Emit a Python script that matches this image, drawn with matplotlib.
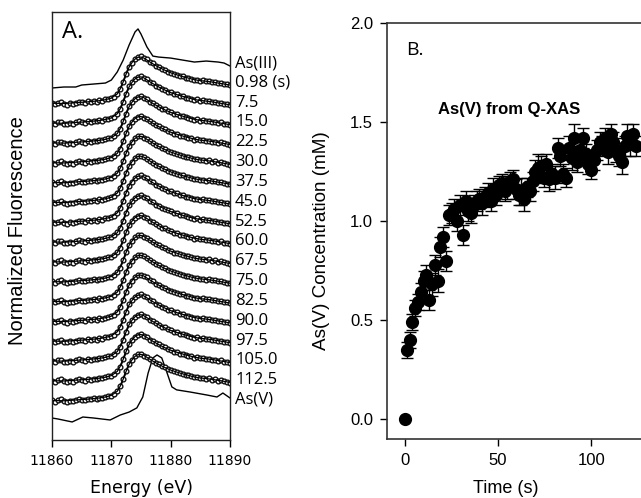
import numpy as np
from matplotlib import pyplot as plt

# ---- panel A: XANES spectra (values in units of the stacking step) ----
energy = [11860.0, 11860.5, 11861.0, 11861.5, 11862.0, 11862.5, 11863.0, 11863.5,
          11864.0, 11864.5, 11865.0, 11865.5, 11866.0, 11866.5, 11867.0, 11867.5,
          11868.0, 11868.5, 11869.0, 11869.5, 11870.0, 11870.5, 11871.0, 11871.5,
          11872.0, 11872.5, 11873.0, 11873.5, 11874.0, 11874.5, 11875.0, 11875.5,
          11876.0, 11876.5, 11877.0, 11877.5, 11878.0, 11878.5, 11879.0, 11879.5,
          11880.0, 11880.5, 11881.0, 11881.5, 11882.0, 11882.5, 11883.0, 11883.5,
          11884.0, 11884.5, 11885.0, 11885.5, 11886.0, 11886.5, 11887.0, 11887.5,
          11888.0, 11888.5, 11889.0, 11889.5, 11890.0]
sample_data = [-1.02, -1.08, -1.00, -0.96, -1.06, -1.10, -1.04, -1.07,
               -1.00, -0.95, -0.99, -1.02, -0.94, -0.97, -0.92, -0.95,
               -0.88, -0.90, -0.84, -0.80, -0.78, -0.70, -0.55, -0.32,
               0.05, 0.45, 0.82, 1.02, 1.20, 1.30, 1.33, 1.24,
               1.18, 1.05, 0.98, 0.86, 0.80, 0.70, 0.66, 0.56,
               0.52, 0.44, 0.42, 0.34, 0.33, 0.26, 0.24, 0.20,
               0.14, 0.16, 0.10, 0.12, 0.07, 0.09, 0.03, 0.04,
               -0.02, 0.00, -0.06, -0.08, -0.12]

fit_energy = [11860, 11862, 11864, 11866, 11868, 11869, 11870, 11871, 11871.5,
              11872, 11872.5, 11873, 11873.5, 11874, 11874.5, 11875, 11875.5,
              11876, 11877, 11878, 11879, 11880, 11881, 11882, 11883, 11884,
              11885, 11886, 11887, 11888, 11889, 11890]
sample_fit = [-1.03, -1.04, -1.00, -0.96, -0.90, -0.85, -0.77, -0.56, -0.30,
              0.05, 0.45, 0.80, 1.03, 1.20, 1.29, 1.30, 1.25,
              1.15, 0.96, 0.79, 0.64, 0.51, 0.41, 0.32, 0.24, 0.16,
              0.11, 0.08, 0.04, -0.01, -0.06, -0.11]

as3_energy = [11860, 11862, 11864, 11865, 11867, 11869, 11870, 11871, 11872,
              11873, 11874, 11874.5, 11875, 11876, 11877, 11878, 11880, 11882,
              11884, 11886, 11888, 11889, 11890]
as3_ref = [-1.26, -1.21, -1.21, -1.11, -1.06, -1.01, -0.86, -0.45, 0.15,
           0.91, 1.57, 1.72, 1.46, 0.81, 0.35, 0.30, 0.25, 0.15,
           0.05, 0.10, 0.05, 0.00, -0.15]

as5_energy = [11860, 11861, 11863.4, 11865.2, 11867, 11869.8, 11871.5, 11873,
              11874.3, 11875.3, 11876.2, 11877, 11877.7, 11878.5, 11879.4,
              11880.2, 11881, 11883.3, 11886.1, 11887.8, 11888.8, 11890]
as5_ref = [-0.91, -0.96, -1.11, -0.86, -0.91, -1.01, -0.76, -0.61,
           -0.40, 0.15, 1.36, 2.12, 2.27, 2.12, 1.36,
           0.66, 0.51, 0.40, 0.25, 0.15, 0.35, 0.10]

times_a = ["0.98 (s)", "7.5", "15.0", "22.5", "30.0", "37.5", "45.0", "52.5",
           "60.0", "67.5", "75.0", "82.5", "90.0", "97.5", "105.0", "112.5"]

# ---- panel B: As(V) concentration from Q-XAS ----
time_b = [0, 1, 2.5, 4, 5.5, 7, 8.5, 10, 11.5, 13, 14.5, 16, 17.5, 19, 20.5, 22,
          23.5, 25, 26.5, 28, 29.5, 31, 32.5, 34, 35.5, 37, 38.5, 40, 41.5, 43,
          44.5, 46, 47.5, 49, 50.5, 52, 53.5, 55, 56.5, 58, 59.5, 61, 62.5, 64,
          65.5, 67, 68.5, 70, 71.5, 73, 74.5, 76, 77.5, 79, 80.5, 82, 83.5, 85,
          86.5, 88, 89.5, 91, 92.5, 94, 95.5, 97, 98.5, 100, 101.5, 103, 104.5,
          106, 107.5, 109, 110.5, 112, 113.5, 115, 116.5, 118, 119.5, 121,
          122.5, 124]
conc = [0.0, 0.35, 0.40, 0.49, 0.56, 0.59, 0.64, 0.70, 0.73, 0.60, 0.68, 0.78,
        0.70, 0.87, 0.92, 0.80, 1.03, 1.04, 1.06, 1.00, 1.08, 0.93, 1.10, 1.05,
        1.04, 1.08, 1.10, 1.11, 1.09, 1.12, 1.14, 1.10, 1.16, 1.13, 1.18, 1.19,
        1.15, 1.17, 1.20, 1.21, 1.16, 1.13, 1.15, 1.11, 1.17, 1.15, 1.20, 1.25,
        1.27, 1.28, 1.22, 1.29, 1.21, 1.24, 1.22, 1.37, 1.33, 1.24, 1.22, 1.37,
        1.32, 1.42, 1.30, 1.36, 1.42, 1.34, 1.29, 1.26, 1.31, 1.36, 1.40, 1.38,
        1.42, 1.35, 1.44, 1.40, 1.36, 1.33, 1.30, 1.38, 1.43, 1.39, 1.44, 1.38]
conc_err = [0.0, 0.04, 0.04, 0.04, 0.04, 0.04, 0.05, 0.05, 0.05, 0.05, 0.06,
            0.05, 0.06, 0.05, 0.05, 0.05, 0.05, 0.05, 0.05, 0.05, 0.05, 0.05,
            0.05, 0.05, 0.05, 0.05, 0.05, 0.05, 0.06, 0.05, 0.05, 0.05, 0.06,
            0.05, 0.05, 0.05, 0.05, 0.06, 0.05, 0.05, 0.05, 0.05, 0.07, 0.06,
            0.05, 0.05, 0.05, 0.06, 0.07, 0.05, 0.05, 0.05, 0.06, 0.05, 0.06,
            0.05, 0.05, 0.05, 0.05, 0.06, 0.06, 0.07, 0.05, 0.05, 0.05, 0.05,
            0.05, 0.05, 0.05, 0.05, 0.05, 0.05, 0.05, 0.06, 0.05, 0.05, 0.06,
            0.05, 0.06, 0.05, 0.06, 0.06, 0.05, 0.05]

plt.rcParams['font.family'] = ['Liberation Sans', 'DejaVu Sans']
W, H = 641, 498
fig = plt.figure(figsize=(W / 100, H / 100), dpi=100)

# ---------------- panel A ----------------
axA = fig.add_axes([52 / W, (H - 440) / H, 178 / W, 428 / H])
step0 = 2.02  # position of the lowest trace (As(V))

axA.plot(as5_energy, np.array(as5_ref) + step0, color='k', lw=1.0)
for i, lab in enumerate(times_a):
    off = step0 + (len(times_a) - i)
    axA.plot(energy, np.array(sample_data) + off, color='#111111', lw=1.4,
             marker='o', ms=3.4, mfc='white', mec='#111111', mew=1.0)
    axA.plot(fit_energy, np.array(sample_fit) + off, color='k', lw=0.9)
    axA.text(11890.85, off, lab, ha='left', va='center', fontsize=12,
             family='Open Sans', clip_on=False)
top = step0 + len(times_a) + 1
axA.plot(as3_energy, np.array(as3_ref) + top, color='k', lw=1.0)
axA.text(11890.85, top, "As(III)", ha='left', va='center', fontsize=12,
         family='Open Sans', clip_on=False)
axA.text(11890.85, step0, "As(V)", ha='left', va='center', fontsize=12,
         family='Open Sans', clip_on=False)

axA.set_xlim(11860, 11890)
axA.set_ylim(0, 428 / 19.82)
axA.set_xticks([11860, 11870, 11880, 11890])
axA.set_yticks([])
axA.tick_params(axis='x', direction='out', length=5, width=1, pad=5,
                labelsize=10)
for t in axA.get_xticklabels():
    t.set_family('DejaVu Sans')
for s in axA.spines.values():
    s.set_linewidth(1.0)
    s.set_color('#222222')
axA.text(0.056, 0.953, "A.", transform=axA.transAxes, fontsize=17,
         family='Open Sans', ha='left', va='center')
fig.text(141 / W, 1 - 488 / H, "Energy (eV)", ha='center', va='center',
         fontsize=12.5, family='DejaVu Sans')
fig.text(18 / W, 1 - 231 / H, "Normalized Fluorescence", ha='center',
         va='center', rotation=90, fontsize=14.5)

# ---------------- panel B ----------------
axB = fig.add_axes([387 / W, (H - 439) / H, 260 / W, 416 / H])
axB.errorbar(time_b[1:], conc[1:], yerr=conc_err[1:], fmt='o', color='k',
             ms=8.5, elinewidth=1.0, capsize=4.5, capthick=1.0)
axB.plot(time_b[:1], conc[:1], 'o', color='k', ms=8.5)
axB.set_xlim(-9.7, 130)
axB.set_ylim(-0.1, 2.0)
axB.set_xticks([0, 50, 100])
axB.set_yticks([0.0, 0.5, 1.0, 1.5, 2.0])
axB.set_yticklabels(["0.0", "0.5", "1.0", "1.5", "2.0"])
axB.tick_params(direction='out', length=5, width=1, pad=5, labelsize=12)
axB.spines['right'].set_visible(False)
for s in ['left', 'bottom', 'top']:
    axB.spines[s].set_linewidth(1.2)
    axB.spines[s].set_color('#333333')
axB.text(0.073, 0.935, "B.", transform=axB.transAxes, fontsize=14,
         family='Open Sans', ha='left', va='center')
axB.text(0.469, 0.791, "As(V) from Q-XAS", transform=axB.transAxes,
         fontsize=12, fontweight='bold', ha='center', va='center')
fig.text(506 / W, 1 - 488 / H, "Time (s)", ha='center', va='center',
         fontsize=13)
fig.text(322 / W, 1 - 241 / H, "As(V) Concentration (mM)", ha='center',
         va='center', rotation=90, fontsize=13.6)

fig.savefig("out.png", dpi=100)
